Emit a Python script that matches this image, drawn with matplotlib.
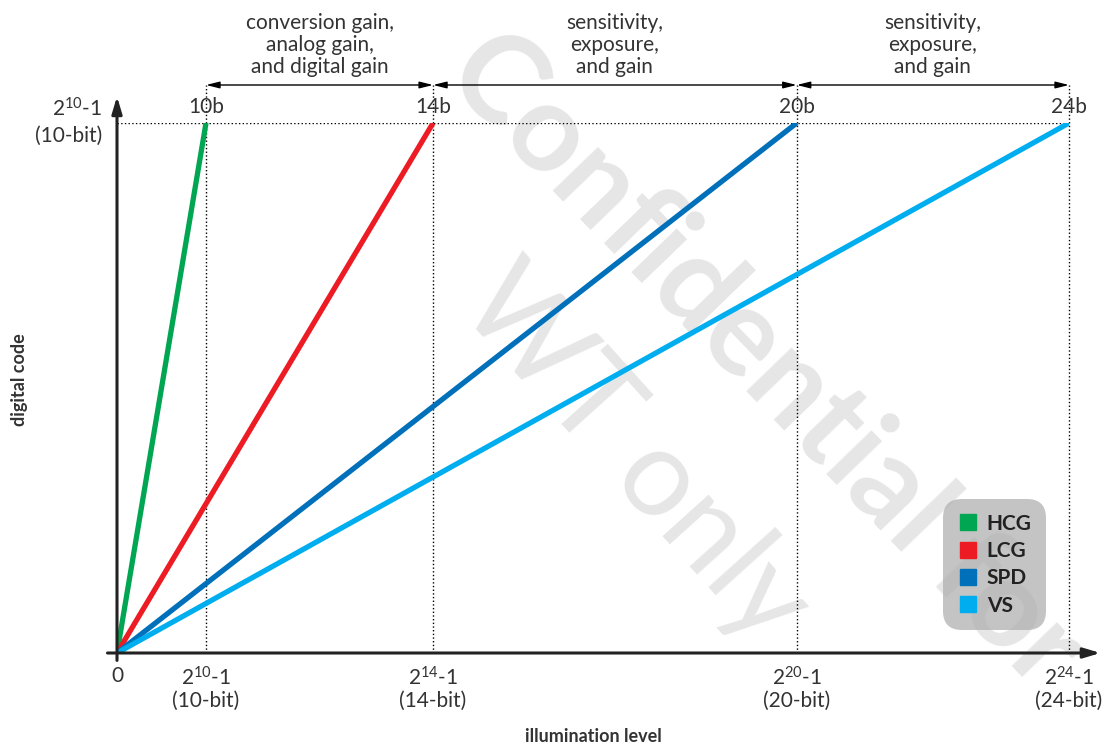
import matplotlib.pyplot as plt
from matplotlib.lines import Line2D

plt.rcParams['font.family'] = ['Lato', 'DejaVu Sans']
plt.rcParams['mathtext.fontset'] = 'custom'
plt.rcParams['mathtext.rm'] = 'Lato'

# schematic data
names = ['HCG', 'LCG', 'SPD', 'VS']
colors = ['#00a651', '#ed1c24', '#0070bb', '#00aeef']
bits = [10, 14, 20, 24]
# schematic x position of full scale for each bit depth (not to scale)
bit_pos = [0.0935, 0.332, 0.714, 1.0]
full_code = 1.0
region_labels = ['conversion gain,\nanalog gain,\nand digital gain',
                 'sensitivity,\nexposure,\nand gain',
                 'sensitivity,\nexposure,\nand gain']

txt = '#333333'
fig = plt.figure(figsize=(11.06, 7.48), dpi=100)
ax = fig.add_axes([117 / 1106, 95 / 748, 952 / 1106, 530 / 748])
ax.set_xlim(0, 1)
ax.set_ylim(0, 1)
ax.axis('off')

# watermark, kept behind the lines
ax.text(765 / 1106, 1 - 360 / 748, 'Confidential for', rotation=-46, fontsize=88,
        fontweight='bold', color='#e6e6e6', ha='center', va='center',
        rotation_mode='anchor', transform=fig.transFigure, zorder=0, clip_on=False)
ax.text(635 / 1106, 1 - 455 / 748, 'WT only', rotation=-48, fontsize=88,
        fontweight='normal', color='#e6e6e6', ha='center', va='center',
        rotation_mode='anchor', transform=fig.transFigure, zorder=0, clip_on=False)

# response lines
for x, c in zip(bit_pos, colors):
    ax.plot([0, x], [0, full_code], color=c, lw=3.8, solid_capstyle='butt', zorder=3)

# guides
top_arrow_y = 1.0717
ax.plot([0, 1], [full_code, full_code], ':', color='black', lw=1, zorder=2)
for x, b in zip(bit_pos, bits):
    ax.plot([x, x], [0, top_arrow_y], ':', color='black', lw=1, zorder=2, clip_on=False)
    ax.text(x, full_code + 0.012, f'{b}b', ha='center', va='bottom', fontsize=15, color=txt)
    ax.text(x, -0.025, r'$\mathregular{2^{%d}}$-1' % b, ha='center', va='top', fontsize=15, color=txt)
    ax.text(x, -0.072, f'({b}-bit)', ha='center', va='top', fontsize=15, color=txt)
ax.text(0, -0.025, '0', ha='center', va='top', fontsize=15, color=txt)

# y tick label
ax.text(-0.016, full_code + 0.005, r'$\mathregular{2^{10}}$-1', ha='right', va='bottom', fontsize=15, color=txt)
ax.text(-0.016, full_code - 0.005, '(10-bit)', ha='right', va='top', fontsize=15, color=txt)

# region arrows and labels
for (x0, x1), lab in zip(zip(bit_pos[:-1], bit_pos[1:]), region_labels):
    ax.annotate('', xy=(x1, top_arrow_y), xytext=(x0, top_arrow_y),
                arrowprops=dict(arrowstyle='<|-|>,head_length=0.8,head_width=0.2',
                                color='black', lw=1, shrinkA=0, shrinkB=0),
                annotation_clip=False)
    ax.text((x0 + x1) / 2, top_arrow_y + 0.015, lab, ha='center', va='bottom',
            fontsize=15, color=txt, linespacing=1.12)

# axes arrows
ax.annotate('', xy=(1.033, 0), xytext=(-0.01, 0),
            arrowprops=dict(arrowstyle='-|>,head_length=1.0,head_width=0.3',
                            color='#222222', lw=2.2, shrinkA=0, shrinkB=0),
            annotation_clip=False, zorder=4)
ax.annotate('', xy=(0, 1.05), xytext=(0, -0.014),
            arrowprops=dict(arrowstyle='-|>,head_length=1.0,head_width=0.3',
                            color='#222222', lw=2.2, shrinkA=0, shrinkB=0),
            annotation_clip=False, zorder=4)

ax.text(-0.102, 0.515, 'digital code', rotation=90, ha='center', va='center',
        fontsize=13, fontweight='bold', color=txt)
ax.text(0.5, -0.158, 'illumination level', ha='center', va='center',
        fontsize=13, fontweight='bold', color=txt)

# legend
handles = [Line2D([], [], marker='s', ls='none', color=c, markersize=11) for c in colors]
leg = ax.legend(handles, names, loc='lower right', bbox_to_anchor=(0.976, 0.043),
                borderaxespad=0, frameon=True, fancybox=True, facecolor='#b0b0b0',
                edgecolor='none', framealpha=0.75, handletextpad=0.4,
                prop={'weight': 'bold', 'size': 15}, labelspacing=0.35,
                handlelength=1.0, borderpad=0.7)
leg.get_frame().set_boxstyle('round', pad=0.0, rounding_size=0.9)
for t in leg.get_texts():
    t.set_color('#222222')
leg.set_zorder(5)

fig.savefig('out.png', dpi=100)
